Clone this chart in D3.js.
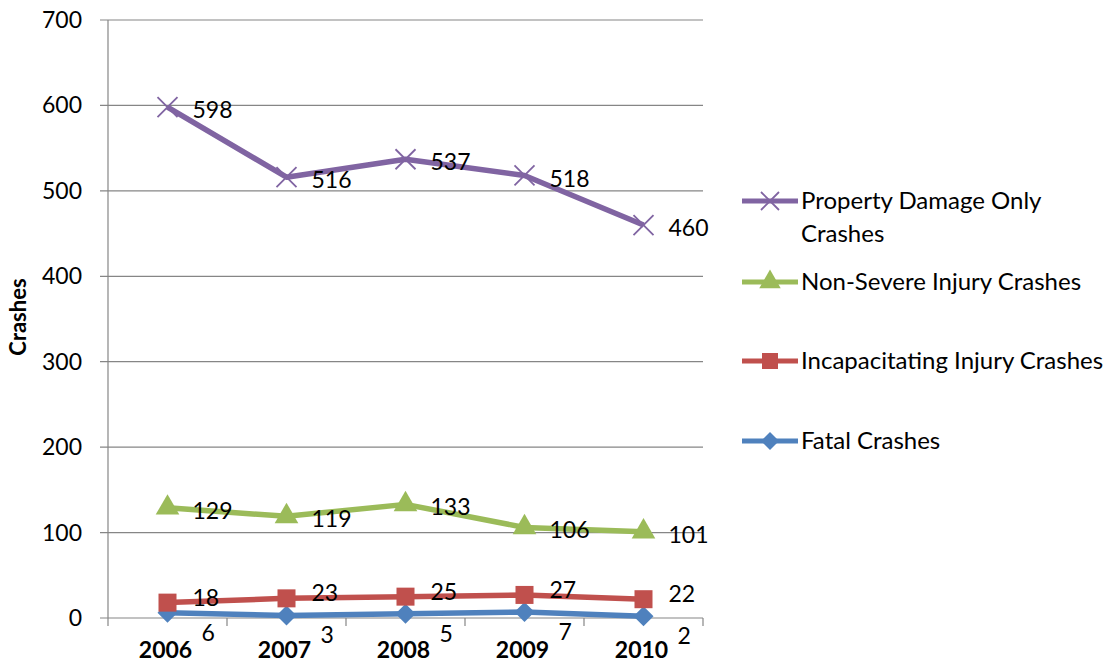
<!DOCTYPE html>
<html><head><meta charset="utf-8">
<script src="https://cdn.jsdelivr.net/npm/d3@7"></script>
<style>body{margin:0;background:#fff;} text{font-family:Lato, "Open Sans", sans-serif;}</style>
</head><body>
<svg id="c" width="1119" height="662"></svg>
<script>
const years = ["2006","2007","2008","2009","2010"];
const propertyDamage = [598,516,537,518,460];
const nonSevere = [129,119,133,106,101];
const incapacitating = [18,23,25,27,22];
const fatal = [6,3,5,7,2];
const yTicks = [0,100,200,300,400,500,600,700];
const seriesNames = ["Property Damage Only Crashes","Non-Severe Injury Crashes","Incapacitating Injury Crashes","Fatal Crashes"];

const series = [
  {name: seriesNames[0], values: propertyDamage, color:"#8064A2", marker:"x", ldx:25, ldy:3},
  {name: seriesNames[1], values: nonSevere, color:"#9BBB59", marker:"tri", ldx:25, ldy:3},
  {name: seriesNames[2], values: incapacitating, color:"#C0504D", marker:"sq", ldx:25, ldy:-5},
  {name: seriesNames[3], values: fatal, color:"#4F81BD", marker:"dia", ldx:34, ldy:20}
];

const svg = d3.select("#c");
const L=108, R=703, T=20, B=618;
const x = d3.scaleBand().domain(years).range([L,R]);
const y = d3.scaleLinear().domain([0,700]).range([B,T]);
const cx = d => x(d)+x.bandwidth()/2;

svg.append("g").selectAll("line").data(yTicks).join("line")
  .attr("x1",L-8).attr("x2",R).attr("y1",d=>y(d)).attr("y2",d=>y(d))
  .attr("stroke","#868686").attr("stroke-width",1.2);
svg.append("line").attr("x1",L).attr("x2",L).attr("y1",T).attr("y2",B).attr("stroke","#868686").attr("stroke-width",1.2);
const bounds = years.map(d=>x(d)).concat([R]);
svg.append("g").selectAll("line").data(bounds).join("line")
  .attr("x1",d=>d).attr("x2",d=>d).attr("y1",B).attr("y2",B+8)
  .attr("stroke","#868686").attr("stroke-width",1.2);
svg.append("g").selectAll("text").data(yTicks).join("text")
  .attr("x",L-26).attr("y",d=>y(d)).attr("dy","0.35em").attr("text-anchor","end")
  .attr("font-size",23).attr("fill","#000").text(d=>d);
svg.append("g").selectAll("text").data(years).join("text")
  .attr("x",d=>cx(d)-2).attr("y",B+40).attr("text-anchor","middle")
  .attr("font-size",23).attr("font-weight","bold").text(d=>d);
svg.append("text").attr("transform",`translate(26,317) rotate(-90)`)
  .attr("text-anchor","middle").attr("font-size",22).attr("font-weight","bold").text("Crashes");

function marker(g, type, color, size){
  if(type==="x"){
    const s=size/2;
    g.append("path").attr("d",`M${-s},${-s}L${s},${s}M${-s},${s}L${s},${-s}`).attr("stroke",color).attr("stroke-width",1.8).attr("fill","none");
  } else if(type==="tri"){
    g.append("path").attr("d",d3.symbol(d3.symbolTriangle, size*size*0.5)()).attr("fill",color);
  } else if(type==="sq"){
    g.append("rect").attr("x",-size/2).attr("y",-size/2).attr("width",size).attr("height",size).attr("fill",color);
  } else if(type==="dia"){
    const s=size/2+1;
    g.append("path").attr("d",`M0,${-s}L${s},0L0,${s}L${-s},0Z`).attr("fill",color);
  }
}
const line = d3.line().x((d,i)=>cx(years[i])).y(d=>y(d));
[3,2,1,0].forEach(k=>{
  const s=series[k];
  svg.append("path").datum(s.values).attr("d",line).attr("fill","none")
    .attr("stroke",s.color).attr("stroke-width",5.5).attr("stroke-linejoin","round");
  s.values.forEach((v,i)=>{
    const g=svg.append("g").attr("transform",`translate(${cx(years[i])},${y(v)})`);
    marker(g,s.marker,s.color, s.marker==="x"?20:(s.marker==="tri"?22:18));
  });
});
series.forEach(s=>{
  svg.append("g").selectAll("text").data(s.values).join("text")
    .attr("x",(d,i)=>cx(years[i])+s.ldx).attr("y",d=>y(d)+s.ldy).attr("dy","0.35em")
    .attr("font-size",23).attr("fill","#000").text(d=>d);
});
const legY=[201,282,361,441];
series.forEach((s,k)=>{
  const g=svg.append("g").attr("transform",`translate(742,${legY[k]})`);
  g.append("line").attr("x1",0).attr("x2",56).attr("y1",0).attr("y2",0).attr("stroke",s.color).attr("stroke-width",5);
  const m=g.append("g").attr("transform","translate(28,0)");
  marker(m,s.marker,s.color, s.marker==="x"?18:(s.marker==="tri"?20:16));
  const t=g.append("text").attr("x",59).attr("y",0).attr("dy","0.35em").attr("font-size",24);
  if(k===0){
    t.append("tspan").attr("x",59).text("Property Damage Only");
    t.append("tspan").attr("x",59).attr("dy","1.35em").text("Crashes");
  } else t.text(s.name);
});
</script>
</body></html>
